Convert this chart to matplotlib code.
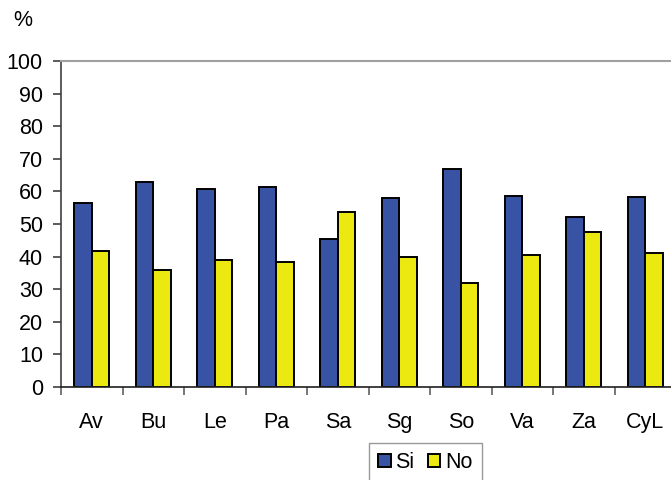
import numpy as np
import matplotlib.pyplot as plt

categories = ["Av", "Bu", "Le", "Pa", "Sa", "Sg", "So", "Va", "Za", "CyL"]
si_vals = [56.4, 62.9, 60.8, 61.3, 45.5, 58.1, 66.8, 58.6, 52.2, 58.2]
no_vals = [41.7, 35.8, 39.0, 38.4, 53.7, 40.0, 32.0, 40.6, 47.6, 41.2]
yticks = list(range(0, 101, 10))

plt.rcParams['font.family'] = ['Liberation Sans', 'DejaVu Sans']

W, H = 671, 480
fig = plt.figure(figsize=(W / 100, H / 100), dpi=100)
ax = fig.add_axes([61 / W, 93 / H, 615 / W, 326 / H])

x = np.arange(len(categories))
bw = 0.288
ax.bar(x - bw / 2, si_vals, bw, color="#3953A4", edgecolor="black", linewidth=1.4, label="Si")
ax.bar(x + bw / 2, no_vals, bw, color="#EBE910", edgecolor="black", linewidth=1.4, label="No")

ax.set_xlim(-0.5, len(categories) - 0.5)
ax.set_ylim(0, 100)
ax.set_yticks(yticks)
ax.set_xticks(x)
ax.set_xticklabels(categories)
ax.set_xticks(np.arange(len(categories) + 1) - 0.5, minor=True)
ax.tick_params(axis="x", which="major", length=0, pad=18, labelsize=15.5)
ax.tick_params(axis="x", which="minor", length=6, width=1.2, color="#606060", direction="out")
ax.tick_params(axis="y", length=6, width=1.2, color="#404040", pad=7, labelsize=15.5)

ax.spines["top"].set_color("#a0a0a0")
ax.spines["top"].set_linewidth(1.5)
ax.spines["right"].set_visible(False)
ax.spines["left"].set_color("#404040")
ax.spines["left"].set_linewidth(1.2)
ax.spines["bottom"].set_color("#202020")
ax.spines["bottom"].set_linewidth(1.2)

fig.text(23 / W, 1 - 21 / H, "%", fontsize=15.5, ha="center", va="center")

leg = fig.legend(loc="center", bbox_to_anchor=(425.5 / W, 1 - 463 / H), ncol=2,
                 fontsize=15.5, frameon=True, fancybox=False, handlelength=0.56,
                 handleheight=0.56, handletextpad=0.22, columnspacing=0.65, borderpad=0.45,
                 borderaxespad=0)
leg.get_frame().set_edgecolor("#808080")
leg.get_frame().set_linewidth(1.0)

fig.savefig("out.png", dpi=100)
